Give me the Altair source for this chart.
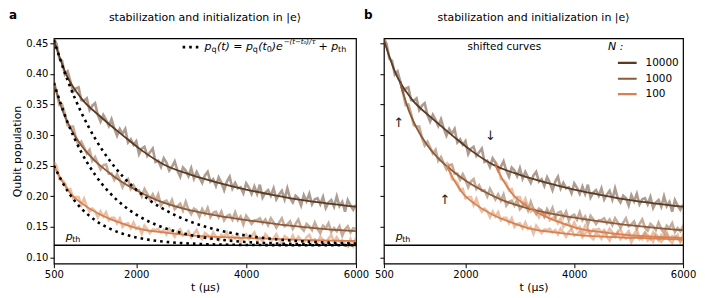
import altair as alt
import pandas as pd

# ---------------- data ----------------
T_TRACE = list(range(500, 6001, 50))
TRACE_10000 = [0.458, 0.449, 0.425, 0.421, 0.399, 0.404, 0.388, 0.371, 0.376, 0.378,
               0.357, 0.356, 0.360, 0.341, 0.348, 0.352, 0.333, 0.322, 0.333, 0.325,
               0.315, 0.326, 0.311, 0.299, 0.310, 0.302, 0.310, 0.288, 0.293, 0.284,
               0.290, 0.269, 0.278, 0.281, 0.266, 0.272, 0.278, 0.256, 0.258, 0.248,
               0.262, 0.255, 0.242, 0.248, 0.257, 0.242, 0.232, 0.247, 0.242, 0.233,
               0.246, 0.229, 0.240, 0.231, 0.222, 0.234, 0.240, 0.224, 0.228, 0.217,
               0.231, 0.222, 0.210, 0.224, 0.232, 0.213, 0.222, 0.213, 0.215, 0.205,
               0.221, 0.214, 0.204, 0.216, 0.204, 0.219, 0.198, 0.206, 0.210, 0.201,
               0.213, 0.195, 0.203, 0.209, 0.195, 0.213, 0.197, 0.190, 0.201, 0.197,
               0.185, 0.202, 0.192, 0.204, 0.187, 0.195, 0.197, 0.187, 0.199, 0.181,
               0.190, 0.194, 0.183, 0.200, 0.184, 0.191, 0.175, 0.194, 0.185, 0.178,
               0.186]
TRACE_1000 = [0.388, 0.370, 0.349, 0.350, 0.335, 0.316, 0.314, 0.314, 0.296, 0.283,
              0.289, 0.280, 0.270, 0.276, 0.258, 0.264, 0.254, 0.244, 0.251, 0.252,
              0.237, 0.237, 0.227, 0.236, 0.227, 0.215, 0.224, 0.228, 0.212, 0.218,
              0.209, 0.210, 0.200, 0.212, 0.204, 0.195, 0.203, 0.193, 0.203, 0.185,
              0.191, 0.193, 0.185, 0.194, 0.179, 0.184, 0.188, 0.177, 0.191, 0.178,
              0.171, 0.180, 0.177, 0.167, 0.179, 0.171, 0.181, 0.166, 0.173, 0.175,
              0.166, 0.175, 0.161, 0.168, 0.170, 0.162, 0.174, 0.161, 0.167, 0.154,
              0.168, 0.162, 0.155, 0.161, 0.161, 0.164, 0.156, 0.162, 0.153, 0.164,
              0.157, 0.149, 0.157, 0.164, 0.151, 0.154, 0.159, 0.147, 0.155, 0.162,
              0.149, 0.144, 0.155, 0.151, 0.145, 0.157, 0.147, 0.140, 0.152, 0.148,
              0.156, 0.142, 0.148, 0.143, 0.151, 0.136, 0.146, 0.151, 0.141, 0.148,
              0.147]
TRACE_100 = [0.256, 0.249, 0.228, 0.226, 0.222, 0.210, 0.212, 0.197, 0.199, 0.199,
             0.186, 0.196, 0.183, 0.175, 0.180, 0.176, 0.166, 0.175, 0.167, 0.174,
             0.161, 0.165, 0.165, 0.156, 0.164, 0.150, 0.155, 0.156, 0.148, 0.157,
             0.147, 0.150, 0.139, 0.152, 0.146, 0.140, 0.146, 0.145, 0.147, 0.141,
             0.145, 0.138, 0.147, 0.141, 0.134, 0.142, 0.146, 0.136, 0.138, 0.143,
             0.133, 0.139, 0.145, 0.134, 0.130, 0.140, 0.137, 0.131, 0.141, 0.134,
             0.128, 0.137, 0.134, 0.141, 0.130, 0.135, 0.131, 0.137, 0.125, 0.134,
             0.138, 0.130, 0.135, 0.141, 0.128, 0.132, 0.126, 0.138, 0.133, 0.126,
             0.131, 0.138, 0.129, 0.124, 0.135, 0.132, 0.127, 0.136, 0.126, 0.134,
             0.129, 0.124, 0.133, 0.137, 0.127, 0.130, 0.124, 0.134, 0.129, 0.121,
             0.131, 0.137, 0.125, 0.133, 0.126, 0.128, 0.122, 0.118, 0.130, 0.119,
             0.132]

FIT_T_10000 = [500, 720, 1000, 1350, 1750, 2100, 2500, 3000, 3500, 4000, 4500, 5000, 5500, 6000]
FIT_10000 = [0.455, 0.400, 0.360, 0.330, 0.300, 0.275, 0.252, 0.235, 0.222, 0.211, 0.202, 0.194, 0.188, 0.183]
FIT_T_1000 = [500, 650, 800, 1000, 1200, 1400, 1600, 1800, 2000, 2400, 2900, 3500, 4100, 4800, 5500, 6000]
FIT_1000 = [0.385, 0.342, 0.312, 0.283, 0.262, 0.246, 0.232, 0.220, 0.210, 0.193, 0.179, 0.168, 0.160, 0.152, 0.146, 0.143]
FIT_T_100 = [500, 650, 800, 1050, 1350, 1700, 2000, 2600, 3200, 4000, 5000, 6000]
FIT_100 = [0.250, 0.225, 0.205, 0.186, 0.170, 0.157, 0.148, 0.140, 0.135, 0.132, 0.129, 0.127]

T_DOT = list(range(500, 6001, 250))
DOT_10000 = [0.455, 0.3895, 0.3369, 0.2945, 0.2604, 0.2330, 0.2109, 0.1931, 0.1789, 0.1674, 0.1581, 0.1507,
             0.1447, 0.1398, 0.1360, 0.1328, 0.1303, 0.1283, 0.1267, 0.1254, 0.1243, 0.1235, 0.1228]
DOT_1000 = [0.385, 0.3207, 0.2721, 0.2352, 0.2073, 0.1861, 0.1701, 0.1579, 0.1487, 0.1418, 0.1365, 0.1325,
            0.1295, 0.1272, 0.1254, 0.1241, 0.1231, 0.1224, 0.1218, 0.1214, 0.1210, 0.1208, 0.1206]
DOT_100 = [0.250, 0.2085, 0.1802, 0.1610, 0.1479, 0.1390, 0.1329, 0.1288, 0.1260, 0.1241, 0.1228, 0.1219,
           0.1213, 0.1209, 0.1206, 0.1204, 0.1203, 0.1202, 0.1201, 0.1201, 0.1200, 0.1200, 0.1200]

P_TH = 0.12
SHIFT_1000 = 300
SHIFT_100_A = 1150
SHIFT_100_B = 2050

LEGEND_N = ["10000", "1000", "100"]
LEGEND_V = [0.418, 0.392, 0.367]
X_TICKS = [500, 2000, 4000, 6000]
Y_TICKS = [0.10, 0.15, 0.20, 0.25, 0.30, 0.35, 0.40, 0.45]
TITLE = "stabilization and initialization in |e\u27e9"

# ---------------- styles ----------------
COL = {"10000": "#5b3a22", "1000": "#8c5a38", "100": "#d6814f"}
TRACE_OP = 0.5
TRACE_W = 2.6
W_PLOT_L, W_PLOT_R, H_PLOT = 303, 300, 226

SX = alt.Scale(domain=[500, 6000], nice=False, zero=False)
SY = alt.Scale(domain=[0.09, 0.458], nice=False, zero=False)
AX = alt.Axis(values=X_TICKS, title="t (\u00b5s)", labelFlush=False, format="d")
AY_L = alt.Axis(values=Y_TICKS, format=".2f", title="Qubit population")
AY_R = alt.Axis(values=Y_TICKS, labels=False, title=None)


def xy(ch, ay):
    return ch.encode(x=alt.X("t:Q", scale=SX, axis=AX),
                     y=alt.Y("v:Q", scale=SY, axis=ay))


def line(ts, vs, color, width, ay, opacity=1.0, dash=None, shift=0, interp="monotone"):
    df = pd.DataFrame({"t": [t + shift for t in ts], "v": vs})
    kw = dict(color=color, strokeWidth=width, opacity=opacity, clip=True, interpolate=interp)
    if dash is not None:
        kw["strokeDash"] = dash
        kw["strokeCap"] = "butt"
    return xy(alt.Chart(df).mark_line(**kw), ay)


def trace(vs, n, ay, shift=0):
    return line(T_TRACE, vs, COL[n], TRACE_W, ay, TRACE_OP, shift=shift, interp="linear")


def text(t, v, s, ay, **kw):
    df = pd.DataFrame({"t": [t], "v": [v]})
    base = dict(align="left", baseline="middle", color="black", fontSize=11)
    base.update(kw)
    return xy(alt.Chart(df).mark_text(text=s, **base), ay)


def pth_layers(ay, t_label):
    rule = alt.Chart(pd.DataFrame({"v": [P_TH]})).mark_rule(color="black", strokeWidth=1.6).encode(
        y=alt.Y("v:Q", scale=SY, axis=ay))
    p = text(t_label, 0.133, "p", ay, fontStyle="italic", fontSize=11)
    th = text(t_label, 0.133, "th", ay, fontSize=8, dx=6.5, dy=3)
    return [rule, p, th]


def header(letter_s, letter_x, width):
    one = pd.DataFrame({"k": [0]})
    let = alt.Chart(one).mark_text(
        text=letter_s, fontWeight="bold", fontSize=12, align="left", baseline="top", color="black"
    ).encode(x=alt.value(letter_x), y=alt.value(-28))
    ttl = alt.Chart(one).mark_text(
        text=TITLE, fontSize=11, align="center", baseline="middle", color="black"
    ).encode(x=alt.value(width / 2), y=alt.value(-20))
    return [let, ttl]


DOT_DASH = [2.6, 4.0]

# ---------------- left panel ----------------
left_layers = [
    trace(TRACE_10000, "10000", AY_L),
    trace(TRACE_1000, "1000", AY_L),
    trace(TRACE_100, "100", AY_L),
    line(FIT_T_10000, FIT_10000, COL["10000"], 1.8, AY_L),
    line(FIT_T_1000, FIT_1000, COL["1000"], 1.8, AY_L),
    line(FIT_T_100, FIT_100, COL["100"], 1.8, AY_L),
    line(T_DOT, DOT_10000, "black", 2.6, AY_L, dash=DOT_DASH),
    line(T_DOT, DOT_1000, "black", 2.6, AY_L, dash=DOT_DASH),
    line(T_DOT, DOT_100, "black", 2.6, AY_L, dash=DOT_DASH),
]
left_layers += pth_layers(AY_L, 716)
left_layers.append(line([2844, 3133], [0.4436, 0.4436], "black", 2.6, AY_L, dash=DOT_DASH, interp="linear"))
F_T, F_V = 3241, 0.4436
FORMULA_PIECES = [
    ("p", 0, 0, 11, "italic"),
    ("q", 7, 3, 8, "normal"),
    ("(t) = p", 12.5, 0, 11, "italic"),
    ("q", 48.5, 3, 8, "normal"),
    ("(t", 54, 0, 11, "italic"),
    ("0", 62.5, 3, 8, "normal"),
    (")e", 67.5, 0, 11, "italic"),
    ("\u2212(t\u2212t\u2080)/\u03c4", 79.5, -5, 7, "italic"),
    ("+ p", 114.5, 0, 11, "italic"),
    ("th", 134, 3, 8, "normal"),
]
for s, dx, dy, sz, st in FORMULA_PIECES:
    left_layers.append(text(F_T, F_V, s, AY_L, dx=dx, dy=dy, fontSize=sz, fontStyle=st))
left_layers += header("a", -45, W_PLOT_L)

left = alt.layer(*left_layers).properties(width=W_PLOT_L, height=H_PLOT)

# ---------------- right panel ----------------
right_layers = [
    trace(TRACE_10000, "10000", AY_R),
    trace(TRACE_1000, "1000", AY_R, SHIFT_1000),
    trace(TRACE_100, "100", AY_R, SHIFT_100_A),
    trace(TRACE_100, "100", AY_R, SHIFT_100_B),
    line(FIT_T_10000, FIT_10000, COL["10000"], 1.8, AY_R),
    line(FIT_T_1000, FIT_1000, COL["1000"], 1.8, AY_R, shift=SHIFT_1000),
    line(FIT_T_100, FIT_100, COL["100"], 1.8, AY_R, shift=SHIFT_100_A),
    line(FIT_T_100, FIT_100, COL["100"], 1.8, AY_R, shift=SHIFT_100_B),
]
right_layers += pth_layers(AY_R, 718)
right_layers.append(text(2714, 0.4436, "shifted curves", AY_R, align="center", fontSize=10.5))
right_layers.append(text(4620, 0.4436, "N :", AY_R, fontStyle="italic", fontSize=11))
for n, v in zip(LEGEND_N, LEGEND_V):
    right_layers.append(line([4802, 5147], [v, v], COL[n], 2.2, AY_R, interp="linear"))
    right_layers.append(text(5310, v, n, AY_R, fontSize=10.5))
right_layers.append(text(772, 0.319, "\u2191", AY_R, align="center", fontSize=13, color="#222222"))
right_layers.append(text(1620, 0.194, "\u2191", AY_R, align="center", fontSize=13, color="#222222"))
right_layers.append(text(2460, 0.298, "\u2193", AY_R, align="center", fontSize=13, color="#222222"))
right_layers += header("b", -20, W_PLOT_R)

right = alt.layer(*right_layers).properties(width=W_PLOT_R, height=H_PLOT)

chart = alt.hconcat(left, right, spacing=28, bounds="flush").properties(
    padding={"left": 0, "top": 0, "right": 0, "bottom": 0}
).configure(font="DejaVu Sans").configure_view(
    stroke="black", strokeWidth=1.2
).configure_axis(
    domain=False, grid=False, tickColor="black", tickSize=4, tickWidth=1,
    labelColor="black", labelFontSize=10, titleFontSize=11, titleFontWeight="normal",
    titleColor="black", labelPadding=2, titlePadding=3
).configure_axisX(titlePadding=2)

chart.save("out.html", embed_options={"renderer": "svg", "actions": False})
